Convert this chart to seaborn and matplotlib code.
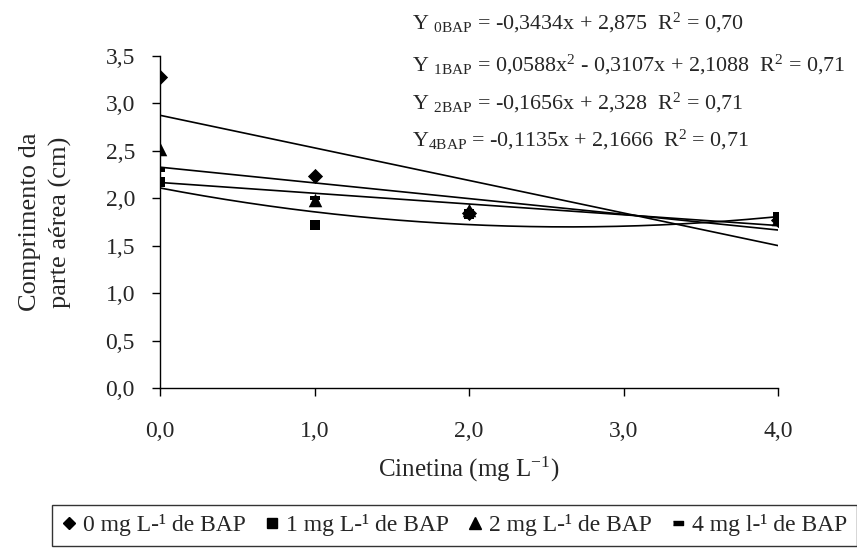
import numpy as np
import pandas as pd
import matplotlib
matplotlib.use("Agg")
import matplotlib.pyplot as plt
import seaborn as sns
from matplotlib.lines import Line2D
from matplotlib.ticker import FuncFormatter

# data
cinetina = [0, 1, 2, 4]
bap0 = [3.28, 2.23, 1.85, 1.77]
bap1 = [2.17, 1.72, 1.83, 1.80]
bap2 = [2.52, 1.98, 1.88, 1.78]
bap4 = [2.30, 2.00, 1.87, 1.79]

series_labels = ["0 mg L-¹ de BAP", "1 mg L-¹ de BAP", "2 mg L-¹ de BAP", "4 mg l-¹ de BAP"]

# regression coefficients (from the equations printed on the chart)
coef0 = [-0.3434, 2.875]
coef1 = [0.0588, -0.3107, 2.1088]
coef2 = [-0.1656, 2.328]
coef4 = [-0.1135, 2.1666]

equations = [
    r"Y $_{\mathrm{0BAP}}$ = -0,3434x + 2,875  R$^{2}$ = 0,70",
    r"Y $_{\mathrm{1BAP}}$ = 0,0588x$^{2}$ - 0,3107x + 2,1088  R$^{2}$ = 0,71",
    r"Y $_{\mathrm{2BAP}}$ = -0,1656x + 2,328  R$^{2}$ = 0,71",
    r"Y$_{\mathrm{4BAP}}$ = -0,1135x + 2,1666  R$^{2}$ = 0,71",
]

sns.set_style("ticks")
plt.rcParams["font.family"] = ["Liberation Serif", "DejaVu Serif"]
plt.rcParams["mathtext.fontset"] = "custom"
plt.rcParams["mathtext.rm"] = "Liberation Serif"
plt.rcParams["mathtext.it"] = "Liberation Serif:italic"

fig = plt.figure(figsize=(8.57, 5.5), dpi=100)
ax = fig.add_axes([160 / 857, 1 - 388 / 550, (778 - 160) / 857, (388 - 56) / 550])

# fitted lines
xs = np.linspace(0, 4, 200)
fits = pd.DataFrame({
    "x": np.concatenate([xs] * 4),
    "y": np.concatenate([
        np.polyval(coef0, xs),
        np.polyval(coef1, xs),
        np.polyval(coef2, xs),
        np.polyval(coef4, xs),
    ]),
    "fit": np.repeat(["f0", "f1", "f2", "f4"], len(xs)),
})
sns.lineplot(data=fits, x="x", y="y", units="fit", estimator=None,
             color="black", linewidth=1.2, ax=ax, legend=False)

# points
dash = [(-1, -0.45), (1, -0.45), (1, 0.45), (-1, 0.45)]
sns.scatterplot(x=cinetina, y=bap4, marker=dash, s=60, color="black", linewidth=0, ax=ax, zorder=3)
sns.scatterplot(x=cinetina, y=bap1, marker="s", s=60, color="black", linewidth=0, ax=ax, zorder=3)
sns.scatterplot(x=cinetina, y=bap2, marker="^", s=95, color="black", linewidth=0, ax=ax, zorder=3)
sns.scatterplot(x=cinetina, y=bap0, marker="D", s=60, color="black", linewidth=0, ax=ax, zorder=3)

ax.set_xlim(0, 4)
ax.set_ylim(0, 3.5)
ax.set_xticks([0, 1, 2, 3, 4])
ax.set_yticks(np.arange(0, 3.51, 0.5))
comma = FuncFormatter(lambda v, p: f"{v:.1f}".replace(".", ","))
ax.xaxis.set_major_formatter(comma)
ax.yaxis.set_major_formatter(comma)
ax.tick_params(labelsize=17, length=6, width=1, color="black")
ax.tick_params(axis="y", pad=12)
ax.tick_params(axis="x", pad=18)
for s in ["left", "bottom"]:
    ax.spines[s].set_linewidth(1)
    ax.spines[s].set_color("black")
sns.despine(ax=ax)

ax.set_xlabel("Cinetina (mg L$^{-1}$)", fontsize=18)
ax.set_ylabel("Comprimento da\nparte aérea (cm)", fontsize=19, linespacing=1.45)
ax.xaxis.set_label_coords(0.5, (388 - 455) / 332)
ax.yaxis.set_label_coords((72 - 160) / 618, 0.5)

# equations
eq_y = [23, 65, 103, 140]
for txt, yy in zip(equations, eq_y):
    fig.text(412 / 857, 1 - yy / 550, txt, fontsize=15.8, ha="left", va="center")

# legend
handles = [
    Line2D([], [], marker="D", color="black", linestyle="none", markersize=6),
    Line2D([], [], marker="s", color="black", linestyle="none", markersize=7),
    Line2D([], [], marker="^", color="black", linestyle="none", markersize=8),
    Line2D([], [], marker=dash, color="black", linestyle="none", markersize=7),
]
leg = fig.legend(handles, series_labels, loc="upper left", bbox_to_anchor=(52 / 857, 1 - 505 / 550),
                 ncol=4, fontsize=17, frameon=True, fancybox=False, handlelength=0.6,
                 handletextpad=0.3, columnspacing=0.8, borderpad=0.4, borderaxespad=0)
leg.get_frame().set_edgecolor("black")
leg.get_frame().set_linewidth(1)

fig.savefig("out.png", dpi=100)
